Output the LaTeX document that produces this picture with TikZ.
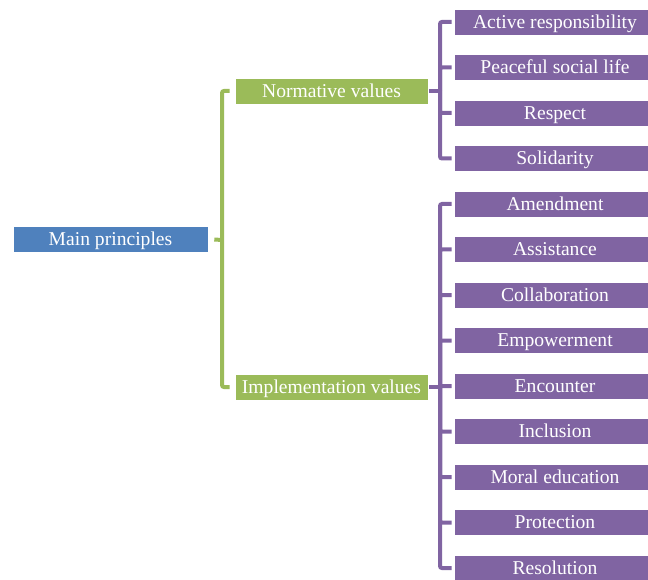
\documentclass[tikz,border=0pt]{standalone}
\usepackage{fontspec}
\setmainfont{Liberation Serif}
\definecolor{cblue}{HTML}{4F81BD}
\definecolor{cgreen}{HTML}{9BBB59}
\definecolor{cpurple}{HTML}{8064A2}
\begin{document}
\begin{tikzpicture}[x=1pt,y=-1pt,
  box/.style={inner sep=0pt, minimum height=26pt, text=white,
    text height=12.8pt, text depth=0pt,
    font=\fontsize{19.6}{22}\selectfont, draw=white, line width=0.6pt},
  mainbox/.style={box, fill=cblue, minimum width=195pt},
  midbox/.style={box, fill=cgreen, minimum width=193pt},
  leafbox/.style={box, fill=cpurple, minimum width=202pt},
  gline/.style={draw=cgreen, line width=4pt, rounded corners=2pt},
  pline/.style={draw=cpurple, line width=4pt, rounded corners=2pt}]
\useasboundingbox (0,0) rectangle (648,580);
\node[mainbox] (main) at (110.5,239.5) {Main principles};
\node[midbox] (norm) at (331.5,91) {Normative values};
\node[midbox] (impl) at (331.5,387) {Implementation values};
\foreach \t [count=\i from 0] in {Active responsibility, Peaceful social life, Respect, Solidarity, Amendment, Assistance, Collaboration, Empowerment, Encounter, Inclusion, Moral education, Protection, Resolution}{
  \node[leafbox] (c\i) at (555,{22+45.5*\i}) {\t};
}
% green bracket
\coordinate (gb) at (222,240);
\draw[gline] ([xshift=-5pt]norm.west) -| (gb) |- ([xshift=-5pt]impl.west);
\draw[gline] ([xshift=6pt]main.east) -- (gb);
% purple brackets
\coordinate (pa) at (440,91);
\coordinate (pb) at (440,387);
\draw[pline] ([xshift=1pt]norm.east) -- (pa);
\draw[pline] ([xshift=1pt]impl.east) -- (pb);
\foreach \i in {0,...,3}{
  \draw[pline] (pa) |- ([xshift=-2pt]c\i.west);
}
\foreach \i in {4,...,12}{
  \draw[pline] (pb) |- ([xshift=-2pt]c\i.west);
}
\end{tikzpicture}
\end{document}
